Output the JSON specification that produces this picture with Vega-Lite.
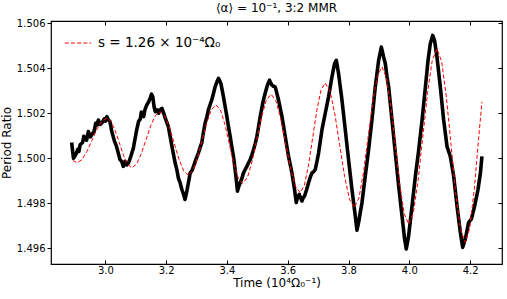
{
  "$schema": "https://vega.github.io/schema/vega-lite/v6.json",
  "width": 451,
  "height": 243,
  "autosize": {"type": "none"},
  "padding": {"left": 51, "top": 21, "right": 5, "bottom": 35},
  "background": "white",
  "title": {"text": "⟨α⟩ = 10⁻¹, 3:2 MMR", "font": "DejaVu Sans", "fontSize": 12, "fontWeight": "normal", "color": "black", "offset": 3},
  "config": {
    "view": {"stroke": "black", "strokeWidth": 1.2},
    "axis": {"grid": false, "domain": false, "labelFont": "DejaVu Sans", "titleFont": "DejaVu Sans", "labelFontSize": 10, "titleFontSize": 12, "titleFontWeight": "normal", "labelColor": "black", "titleColor": "black", "tickColor": "black", "tickSize": -4, "tickWidth": 1}
  },
  "datasets": {
    "sim": [
      {"t": 2.889, "r": 1.50070}, {"t": 2.891, "r": 1.50045}, {"t": 2.895, "r": 1.50000}, {"t": 2.9025, "r": 1.50016},
      {"t": 2.909, "r": 1.50040}, {"t": 2.913, "r": 1.50030}, {"t": 2.9167, "r": 1.50060}, {"t": 2.925, "r": 1.50070}, {"t": 2.929, "r": 1.50098}, {"t": 2.933, "r": 1.50090},
      {"t": 2.938, "r": 1.50080}, {"t": 2.944, "r": 1.50119}, {"t": 2.950, "r": 1.50095}, {"t": 2.955, "r": 1.50104},
      {"t": 2.963, "r": 1.50120}, {"t": 2.968, "r": 1.50155}, {"t": 2.972, "r": 1.50148}, {"t": 2.977, "r": 1.50170}, {"t": 2.982, "r": 1.50150},
      {"t": 2.988, "r": 1.50156}, {"t": 2.996, "r": 1.50175}, {"t": 3.000, "r": 1.50165}, {"t": 3.005, "r": 1.50185}, {"t": 3.010, "r": 1.50170},
      {"t": 3.015, "r": 1.50163}, {"t": 3.021, "r": 1.50119}, {"t": 3.030, "r": 1.50075}, {"t": 3.036, "r": 1.50055},
      {"t": 3.041, "r": 1.50030}, {"t": 3.048, "r": 1.49994}, {"t": 3.054, "r": 1.49985}, {"t": 3.059, "r": 1.49964},
      {"t": 3.065, "r": 1.49986}, {"t": 3.070, "r": 1.49970}, {"t": 3.076, "r": 1.49979}, {"t": 3.084, "r": 1.50010},
      {"t": 3.092, "r": 1.50045}, {"t": 3.098, "r": 1.50090}, {"t": 3.103, "r": 1.50126}, {"t": 3.109, "r": 1.50163},
      {"t": 3.115, "r": 1.50175}, {"t": 3.118, "r": 1.50205}, {"t": 3.122, "r": 1.50192}, {"t": 3.126, "r": 1.50185}, {"t": 3.130, "r": 1.50215}, {"t": 3.136, "r": 1.50237},
      {"t": 3.142, "r": 1.50250}, {"t": 3.147, "r": 1.50266}, {"t": 3.152, "r": 1.50285}, {"t": 3.156, "r": 1.50273},
      {"t": 3.160, "r": 1.50230}, {"t": 3.164, "r": 1.50207}, {"t": 3.170, "r": 1.50215}, {"t": 3.175, "r": 1.50200},
      {"t": 3.180, "r": 1.50215}, {"t": 3.186, "r": 1.50222}, {"t": 3.192, "r": 1.50200}, {"t": 3.197, "r": 1.50178},
      {"t": 3.202, "r": 1.50160}, {"t": 3.207, "r": 1.50141}, {"t": 3.213, "r": 1.50097}, {"t": 3.219, "r": 1.50053},
      {"t": 3.2295, "r": 1.49979}, {"t": 3.235, "r": 1.49950}, {"t": 3.240, "r": 1.49913}, {"t": 3.246, "r": 1.49890},
      {"t": 3.2516, "r": 1.49861}, {"t": 3.257, "r": 1.49840}, {"t": 3.262, "r": 1.49817}, {"t": 3.265, "r": 1.49835},
      {"t": 3.268, "r": 1.49854}, {"t": 3.273, "r": 1.49890}, {"t": 3.279, "r": 1.49935}, {"t": 3.285, "r": 1.49945},
      {"t": 3.290, "r": 1.49964}, {"t": 3.298, "r": 1.49995}, {"t": 3.306, "r": 1.50023}, {"t": 3.311, "r": 1.50045},
      {"t": 3.317, "r": 1.50068}, {"t": 3.322, "r": 1.50110}, {"t": 3.328, "r": 1.50156}, {"t": 3.334, "r": 1.50185},
      {"t": 3.339, "r": 1.50215}, {"t": 3.345, "r": 1.50240}, {"t": 3.350, "r": 1.50259}, {"t": 3.356, "r": 1.50290},
      {"t": 3.361, "r": 1.50317}, {"t": 3.367, "r": 1.50340}, {"t": 3.372, "r": 1.50355}, {"t": 3.376, "r": 1.50345},
      {"t": 3.380, "r": 1.50332}, {"t": 3.384, "r": 1.50305}, {"t": 3.3885, "r": 1.50273}, {"t": 3.394, "r": 1.50230},
      {"t": 3.3997, "r": 1.50185}, {"t": 3.405, "r": 1.50140}, {"t": 3.4106, "r": 1.50097}, {"t": 3.416, "r": 1.50050},
      {"t": 3.4215, "r": 1.50008}, {"t": 3.4255, "r": 1.49965}, {"t": 3.4294, "r": 1.49920}, {"t": 3.4346, "r": 1.49854},
      {"t": 3.439, "r": 1.49875}, {"t": 3.4435, "r": 1.49891}, {"t": 3.449, "r": 1.49910}, {"t": 3.4544, "r": 1.49935},
      {"t": 3.460, "r": 1.49950}, {"t": 3.4656, "r": 1.49964}, {"t": 3.471, "r": 1.49980}, {"t": 3.4765, "r": 1.49994},
      {"t": 3.482, "r": 1.50015}, {"t": 3.4873, "r": 1.50038}, {"t": 3.493, "r": 1.50065}, {"t": 3.4985, "r": 1.50097},
      {"t": 3.504, "r": 1.50140}, {"t": 3.5094, "r": 1.50185}, {"t": 3.515, "r": 1.50225}, {"t": 3.520, "r": 1.50259},
      {"t": 3.526, "r": 1.50290}, {"t": 3.5314, "r": 1.50317}, {"t": 3.536, "r": 1.50335}, {"t": 3.540, "r": 1.50347},
      {"t": 3.544, "r": 1.50335}, {"t": 3.548, "r": 1.50325}, {"t": 3.553, "r": 1.50320}, {"t": 3.5588, "r": 1.50317},
      {"t": 3.5697, "r": 1.50259}, {"t": 3.581, "r": 1.50185}, {"t": 3.5917, "r": 1.50097}, {"t": 3.6026, "r": 1.50008},
      {"t": 3.6138, "r": 1.49935}, {"t": 3.6223, "r": 1.49861}, {"t": 3.628, "r": 1.49803}, {"t": 3.633, "r": 1.49830},
      {"t": 3.6378, "r": 1.49839}, {"t": 3.642, "r": 1.49825}, {"t": 3.6467, "r": 1.49810}, {"t": 3.651, "r": 1.49825},
      {"t": 3.6553, "r": 1.49832}, {"t": 3.662, "r": 1.49860}, {"t": 3.6684, "r": 1.49891}, {"t": 3.674, "r": 1.49915},
      {"t": 3.6796, "r": 1.49935}, {"t": 3.685, "r": 1.49940}, {"t": 3.6905, "r": 1.49950}, {"t": 3.696, "r": 1.49985},
      {"t": 3.7014, "r": 1.50023}, {"t": 3.7125, "r": 1.50126}, {"t": 3.7234, "r": 1.50200}, {"t": 3.7343, "r": 1.50273},
      {"t": 3.7455, "r": 1.50362}, {"t": 3.754, "r": 1.50421}, {"t": 3.7597, "r": 1.50435}, {"t": 3.7672, "r": 1.50377},
      {"t": 3.7784, "r": 1.50259}, {"t": 3.7893, "r": 1.50126}, {"t": 3.8001, "r": 1.49994}, {"t": 3.8113, "r": 1.49861},
      {"t": 3.8222, "r": 1.49743}, {"t": 3.8278, "r": 1.49680}, {"t": 3.833, "r": 1.49714}, {"t": 3.8443, "r": 1.49803},
      {"t": 3.855, "r": 1.49920}, {"t": 3.866, "r": 1.50038}, {"t": 3.877, "r": 1.50170}, {"t": 3.888, "r": 1.50317},
      {"t": 3.899, "r": 1.50435}, {"t": 3.908, "r": 1.50494}, {"t": 3.9154, "r": 1.50450}, {"t": 3.921, "r": 1.50421},
      {"t": 3.9266, "r": 1.50362}, {"t": 3.932, "r": 1.50317}, {"t": 3.943, "r": 1.50170}, {"t": 3.954, "r": 1.50023},
      {"t": 3.965, "r": 1.49876}, {"t": 3.976, "r": 1.49743}, {"t": 3.9845, "r": 1.49641}, {"t": 3.990, "r": 1.49597},
      {"t": 3.9977, "r": 1.49655}, {"t": 4.009, "r": 1.49788}, {"t": 4.020, "r": 1.49920}, {"t": 4.031, "r": 1.50038},
      {"t": 4.042, "r": 1.50170}, {"t": 4.053, "r": 1.50317}, {"t": 4.0616, "r": 1.50435}, {"t": 4.069, "r": 1.50509},
      {"t": 4.077, "r": 1.50546}, {"t": 4.083, "r": 1.50524}, {"t": 4.091, "r": 1.50450}, {"t": 4.102, "r": 1.50317},
      {"t": 4.113, "r": 1.50170}, {"t": 4.124, "r": 1.50053}, {"t": 4.135, "r": 1.50008}, {"t": 4.146, "r": 1.49920},
      {"t": 4.157, "r": 1.49788}, {"t": 4.168, "r": 1.49670}, {"t": 4.1755, "r": 1.49604}, {"t": 4.1844, "r": 1.49641},
      {"t": 4.195, "r": 1.49714}, {"t": 4.204, "r": 1.49729}, {"t": 4.215, "r": 1.49788}, {"t": 4.226, "r": 1.49861},
      {"t": 4.234, "r": 1.49935}, {"t": 4.239, "r": 1.50008}
    ],
    "fit": [
      {"t": 2.893, "r": 1.49990}, {"t": 2.906, "r": 1.49980},
      {"t": 2.9225, "r": 1.49993}, {"t": 2.939, "r": 1.50030}, {"t": 2.9555, "r": 1.50079}, {"t": 2.972, "r": 1.50129}, {"t": 2.9885, "r": 1.50165}, {"t": 3.005, "r": 1.50178},
      {"t": 3.0187, "r": 1.50163}, {"t": 3.0323, "r": 1.50123}, {"t": 3.046, "r": 1.50068}, {"t": 3.0597, "r": 1.50012}, {"t": 3.0733, "r": 1.49972}, {"t": 3.087, "r": 1.49957},
      {"t": 3.1025, "r": 1.49974}, {"t": 3.118, "r": 1.50020}, {"t": 3.1335, "r": 1.50082}, {"t": 3.149, "r": 1.50145}, {"t": 3.1645, "r": 1.50190}, {"t": 3.180, "r": 1.50207},
      {"t": 3.1955, "r": 1.50188}, {"t": 3.211, "r": 1.50137}, {"t": 3.2265, "r": 1.50066}, {"t": 3.242, "r": 1.49996}, {"t": 3.2575, "r": 1.49944}, {"t": 3.273, "r": 1.49925},
      {"t": 3.2882, "r": 1.49946}, {"t": 3.3033, "r": 1.50003}, {"t": 3.3185, "r": 1.50081}, {"t": 3.3337, "r": 1.50159}, {"t": 3.3488, "r": 1.50216}, {"t": 3.364, "r": 1.50237},
      {"t": 3.3787, "r": 1.50214}, {"t": 3.3933, "r": 1.50150}, {"t": 3.408, "r": 1.50063}, {"t": 3.4227, "r": 1.49975}, {"t": 3.4373, "r": 1.49911}, {"t": 3.452, "r": 1.49888},
      {"t": 3.4675, "r": 1.49915}, {"t": 3.483, "r": 1.49987}, {"t": 3.4985, "r": 1.50087}, {"t": 3.514, "r": 1.50186}, {"t": 3.5295, "r": 1.50258}, {"t": 3.545, "r": 1.50285},
      {"t": 3.561, "r": 1.50256}, {"t": 3.577, "r": 1.50176}, {"t": 3.593, "r": 1.50066}, {"t": 3.609, "r": 1.49957}, {"t": 3.625, "r": 1.49876}, {"t": 3.641, "r": 1.49847},
      {"t": 3.6547, "r": 1.49880}, {"t": 3.6683, "r": 1.49969}, {"t": 3.682, "r": 1.50091}, {"t": 3.6957, "r": 1.50213}, {"t": 3.7093, "r": 1.50302}, {"t": 3.723, "r": 1.50335},
      {"t": 3.739, "r": 1.50298}, {"t": 3.755, "r": 1.50197}, {"t": 3.771, "r": 1.50058}, {"t": 3.787, "r": 1.49920}, {"t": 3.803, "r": 1.49818}, {"t": 3.819, "r": 1.49781},
      {"t": 3.8342, "r": 1.49823}, {"t": 3.8493, "r": 1.49937}, {"t": 3.8645, "r": 1.50094}, {"t": 3.8797, "r": 1.50250}, {"t": 3.8948, "r": 1.50364}, {"t": 3.910, "r": 1.50406},
      {"t": 3.9247, "r": 1.50359}, {"t": 3.9393, "r": 1.50231}, {"t": 3.954, "r": 1.50057}, {"t": 3.9687, "r": 1.49882}, {"t": 3.9833, "r": 1.49754}, {"t": 3.998, "r": 1.49707},
      {"t": 4.0135, "r": 1.49759}, {"t": 4.029, "r": 1.49902}, {"t": 4.0445, "r": 1.50097}, {"t": 4.060, "r": 1.50292}, {"t": 4.0755, "r": 1.50435}, {"t": 4.091, "r": 1.50487},
      {"t": 4.1065, "r": 1.50429}, {"t": 4.122, "r": 1.50272}, {"t": 4.1375, "r": 1.50057}, {"t": 4.153, "r": 1.49841}, {"t": 4.1685, "r": 1.49684}, {"t": 4.184, "r": 1.49626},
      {"t": 4.199, "r": 1.49690}, {"t": 4.214, "r": 1.49865}, {"t": 4.229, "r": 1.50103}, {"t": 4.239, "r": 1.50251}
    ]
  },
  "layer": [
    {
      "data": {"name": "sim"},
      "mark": {"type": "line", "color": "black", "strokeWidth": 3.6, "strokeJoin": "round"},
      "encoding": {
        "x": {"field": "t", "type": "quantitative", "scale": {"domain": [2.821, 4.305], "nice": false, "zero": false},
              "axis": {"title": "Time (10⁴Ω₀⁻¹)", "values": [3.0, 3.2, 3.4, 3.6, 3.8, 4.0, 4.2], "format": ".1f", "labelPadding": 5, "titlePadding": 2}},
        "y": {"field": "r", "type": "quantitative", "scale": {"domain": [1.4953, 1.5061], "nice": false, "zero": false},
              "axis": {"title": "Period Ratio", "values": [1.496, 1.498, 1.5, 1.502, 1.504, 1.506], "format": ".3f", "tickSize": 4, "labelPadding": 2, "titlePadding": 3}}
      }
    },
    {
      "data": {"name": "fit"},
      "mark": {"type": "line", "strokeWidth": 1, "strokeDash": [4, 2.2]},
      "encoding": {
        "x": {"field": "t", "type": "quantitative", "axis": {"orient": "top", "labels": false, "title": null, "values": [3.0, 3.2, 3.4, 3.6, 3.8, 4.0, 4.2]}},
        "y": {"field": "r", "type": "quantitative", "axis": {"orient": "right", "labels": false, "title": null, "values": [1.496, 1.498, 1.5, 1.502, 1.504, 1.506]}},
        "color": {"datum": "s = 1.26 × 10⁻⁴Ω₀", "type": "nominal",
                  "scale": {"range": ["#ff0000"]},
                  "legend": {"title": null, "orient": "none", "legendX": 13, "legendY": 8, "symbolType": "stroke", "symbolDash": [4, 2.2], "symbolStrokeWidth": 1, "symbolSize": 700, "labelFont": "DejaVu Sans", "labelFontSize": 13.5, "labelColor": "black", "labelOffset": 6}}
      }
    }
  ],
  "resolve": {"axis": {"x": "independent", "y": "independent"}}
}
